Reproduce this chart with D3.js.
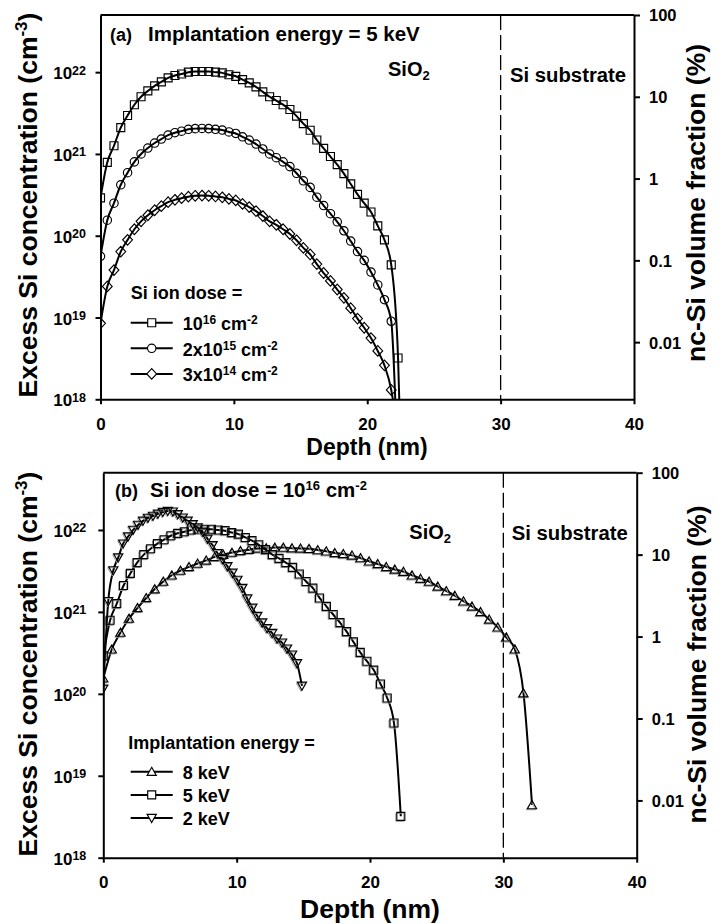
<!DOCTYPE html>
<html><head><meta charset="utf-8">
<script src="https://cdn.jsdelivr.net/npm/d3@7/dist/d3.min.js"></script>
<style>
body{margin:0;background:#fff}
svg{display:block}
text{font-family:'Liberation Sans',Arial,Helvetica,sans-serif;font-weight:bold;fill:#000}
</style>
</head><body><script>
// ---------------- DATA ----------------
// Panel (a): 5 keV implantation, three doses
const depthA = [0,0.51,1.01,1.52,2.03,2.54,3.04,3.55,4.06,4.56,5.07,5.58,6.08,6.59,7.10,7.61,8.11,8.62,9.13,9.63,10.14,10.65,11.15,11.66,12.17,12.68,13.18,13.69,14.20,14.70,15.21,15.72,16.22,16.73,17.24,17.75,18.25,18.76,19.27,19.77,20.28,20.79,21.29,21.80,22.31];
const dose1e16 = [2.9e20,7.9e20,1.26e21,2.1e21,2.95e21,4.0e21,5.0e21,5.9e21,6.8e21,7.6e21,8.5e21,9.1e21,9.5e21,1.0e22,1.02e22,1.02e22,1.02e22,1.0e22,9.8e21,9.3e21,8.9e21,8.1e21,7.4e21,6.6e21,5.75e21,5.0e21,4.5e21,4.0e21,3.5e21,2.9e21,2.35e21,1.95e21,1.48e21,1.17e21,9.3e20,7.4e20,5.75e20,4.3e20,3.2e20,2.5e20,1.95e20,1.32e20,8.9e19,4.4e19,3.2e18];
const dose2e15 = [5.6e19,1.55e20,2.5e20,4.2e20,5.9e20,8.0e20,1.0e21,1.18e21,1.36e21,1.52e21,1.7e21,1.82e21,1.9e21,2.0e21,2.04e21,2.05e21,2.04e21,2.0e21,1.96e21,1.86e21,1.78e21,1.62e21,1.48e21,1.32e21,1.15e21,1.0e21,9.0e20,8.0e20,7.0e20,5.8e20,4.7e20,3.9e20,2.96e20,2.34e20,1.86e20,1.48e20,1.15e20,8.6e19,6.4e19,5.0e19,3.6e19,2.5e19,1.65e19,9.0e18];
const dose3e14 = [8.5e18,2.4e19,3.8e19,6.4e19,8.9e19,1.2e20,1.5e20,1.78e20,2.05e20,2.3e20,2.57e20,2.75e20,2.88e20,3.0e20,3.08e20,3.1e20,3.08e20,3.02e20,2.95e20,2.82e20,2.7e20,2.45e20,2.24e20,2.0e20,1.74e20,1.5e20,1.36e20,1.2e20,1.05e20,8.8e19,7.1e19,5.9e19,4.5e19,3.5e19,2.8e19,2.2e19,1.74e19,1.3e19,9.7e18,7.5e18,5.6e18,3.9e18,2.6e18,1.3e18];
// depth where each fitted line of panel (a) reaches 1e18 cm^-3
const tailDepthA = [22.4, 22.1, 21.92];
const legendA = ["10|16| cm|-2", "2x10|15| cm|-2", "3x10|14| cm|-2"];

// Panel (b): dose 1e16, three energies
const depth8 = [0,0.64,1.29,1.93,2.57,3.22,3.86,4.50,5.14,5.79,6.43,7.07,7.72,8.36,9.00,9.65,10.29,10.93,11.57,12.22,12.86,13.50,14.15,14.79,15.43,16.08,16.72,17.36,18.00,18.65,19.29,19.93,20.58,21.22,21.86,22.51,23.15,23.79,24.43,25.08,25.72,26.36,27.01,27.65,28.29,28.94,29.58,30.22,30.86,31.51,32.15];
const conc8keV = [1.55e20,3.5e20,5.6e20,8.3e20,1.12e21,1.48e21,1.9e21,2.35e21,2.8e21,3.2e21,3.55e21,3.9e21,4.25e21,4.7e21,5.0e21,5.3e21,5.55e21,5.75e21,5.95e21,6.0e21,6.1e21,6.1e21,6.0e21,5.95e21,5.9e21,5.7e21,5.5e21,5.25e21,5.1e21,4.9e21,4.55e21,4.15e21,3.85e21,3.55e21,3.3e21,3.1e21,2.8e21,2.55e21,2.35e21,2.05e21,1.8e21,1.58e21,1.35e21,1.17e21,1.0e21,8.1e20,6.5e20,4.9e20,3.5e20,1.02e20,4.4e18];
const depth5 = depthA;
const conc5keV = dose1e16;
const depth2 = [0,0.37,0.75,1.12,1.49,1.86,2.24,2.61,2.98,3.35,3.73,4.10,4.47,4.84,5.22,5.59,5.96,6.33,6.71,7.08,7.45,7.82,8.20,8.57,8.94,9.31,9.69,10.06,10.43,10.80,11.18,11.55,11.92,12.29,12.67,13.04,13.41,13.78,14.16,14.53,14.90];
const conc2keV = [1.15e20,1.35e21,3.2e21,4.6e21,6.8e21,8.3e21,1.0e22,1.15e22,1.29e22,1.4e22,1.48e22,1.57e22,1.65e22,1.7e22,1.67e22,1.55e22,1.41e22,1.29e22,1.17e22,1.07e22,9.5e21,7.8e21,6.5e21,5.2e21,4.4e21,3.6e21,3.0e21,2.45e21,1.95e21,1.45e21,1.12e21,8.9e20,7.4e20,6.3e20,5.5e20,4.7e20,4.2e20,3.55e20,3.0e20,2.35e20,1.25e20];
const legendB = ["8 keV", "5 keV", "2 keV"];

// Axes
const xTicks = [0, 10, 20, 30, 40];
const xDomain = [0, 40];
const yDomain = [1e18, 5e22];          // cm^-3
const yRightDomain = [0.002, 100];     // % (100 % = 5e22 cm^-3)
const yTicksLeft = [1e18, 1e19, 1e20, 1e21, 1e22];
const yTicksRight = [0.01, 0.1, 1, 10, 100];
const yRightLabels = ["0.01", "0.1", "1", "10", "100"];
const interfaceDepth = 30;

// ---------------- DRAW ----------------
const W = 727, H = 924;
const svg = d3.select("body").append("svg").attr("width", W).attr("height", H);

function rich(sel, parts, fs, smallFs, raise) {
  let shift = 0;
  parts.forEach(p => {
    const ts = sel.append("tspan").text(p.t);
    const target = p.sup ? -raise : (p.sub ? raise * 0.55 : 0);
    ts.attr("dy", target - shift);
    shift = target;
    ts.style("font-size", (p.sup || p.sub) ? smallFs + "px" : fs + "px");
  });
}
function parseSup(str) { // "10|16| cm|-2" -> alternating normal/sup
  return str.split("|").map((t, i) => ({t, sup: i % 2 === 1}));
}

function markerPath(type, cx, cy) {
  switch (type) {
    case "square": { const h = 4; return `M${cx-h},${cy-h}H${cx+h}V${cy+h}H${cx-h}Z`; }
    case "circle": { const r = 4.2; return `M${cx-r},${cy}A${r},${r} 0 1,0 ${cx+r},${cy}A${r},${r} 0 1,0 ${cx-r},${cy}Z`; }
    case "diamond": { const w = 4.9, h = 5.3; return `M${cx},${cy-h}L${cx+w},${cy}L${cx},${cy+h}L${cx-w},${cy}Z`; }
    case "up": { const w = 4.6, h = 4.4; return `M${cx},${cy-h}L${cx+w},${cy+h*0.85}L${cx-w},${cy+h*0.85}Z`; }
    case "down": { const w = 4.6, h = 4.4; return `M${cx},${cy+h}L${cx+w},${cy-h*0.85}L${cx-w},${cy-h*0.85}Z`; }
  }
}

function panel(P) {
  const g = svg.append("g");
  const x = d3.scaleLinear().domain(xDomain).range([P.l, P.r]);
  const y = d3.scaleLog().domain(yDomain).range([P.b, P.t]);
  const yR = d3.scaleLog().domain(yRightDomain).range([P.b, P.t]);

  const clipId = "clip" + P.id;
  svg.append("clipPath").attr("id", clipId).append("rect")
    .attr("x", P.l).attr("y", P.t).attr("width", P.r - P.l).attr("height", P.b - P.t);

  // dashed interface line
  g.append("line").attr("x1", x(interfaceDepth)).attr("x2", x(interfaceDepth))
    .attr("y1", P.t).attr("y2", P.b).attr("stroke", "#000").attr("stroke-width", 1.3)
    .attr("stroke-dasharray", "15,5");

  // series
  const line = d3.line().x(d => x(d[0])).y(d => y(d[1])).curve(d3.curveMonotoneX);
  const sg = g.append("g").attr("clip-path", `url(#${clipId})`);
  P.series.forEach(s => {
    let pts = s.depth.slice(0, s.values.length).map((d, i) => [d, s.values[i]]);
    let lpts = pts.slice();
    if (s.tail !== undefined) lpts.push([s.tail, yDomain[0]]);
    sg.append("path").attr("d", line(lpts)).attr("fill", "none")
      .attr("stroke", "#000").attr("stroke-width", 2);
    if (P.shadow) {
      sg.append("path").attr("d", pts.map(p => markerPath(s.marker, x(p[0]) - 1, y(p[1]) + 1)).join(""))
        .attr("fill", "none").attr("stroke", "#999").attr("stroke-width", 1);
    }
    sg.append("path").attr("d", pts.map(p => markerPath(s.marker, x(p[0]), y(p[1]))).join(""))
      .attr("fill", "none").attr("stroke", "#000").attr("stroke-width", 1.15);
  });

  // top frame line
  g.append("line").attr("x1", P.l).attr("x2", P.r).attr("y1", P.t).attr("y2", P.t)
    .attr("stroke", "#000").attr("stroke-width", 2);

  // bottom axis
  const ax = g.append("g").attr("transform", `translate(0,${P.b})`)
    .call(d3.axisBottom(x).tickValues(xTicks).tickSize(5).tickSizeOuter(0).tickFormat(d => d));
  ax.attr("font-family", null).attr("font-size", null);
  ax.select(".domain").attr("stroke-width", 2);
  ax.selectAll(".tick line").attr("stroke-width", 2);
  ax.selectAll(".tick text").attr("y", 30.5).attr("dy", 0).style("font-size", "17px");

  // left axis
  const al = g.append("g").attr("transform", `translate(${P.l},0)`)
    .call(d3.axisLeft(y).tickValues(yTicksLeft).tickSize(5).tickSizeOuter(0).tickFormat(""));
  al.attr("font-family", null).attr("font-size", null);
  al.select(".domain").attr("stroke-width", 2);
  al.selectAll(".tick line").attr("stroke-width", 2);
  al.selectAll(".tick text").each(function (d) {
    const t = d3.select(this).attr("x", -P.lLab).attr("dy", 0).attr("y", 6.5).text(null);
    rich(t, [{t: "10"}, {t: String(Math.round(Math.log10(d))), sup: true}], 17, 12.5, 4.5);
  });

  // right axis
  const ar = g.append("g").attr("transform", `translate(${P.r},0)`)
    .call(d3.axisRight(yR).tickValues(yTicksRight).tickSize(6).tickSizeOuter(0)
      .tickFormat((d, i) => yRightLabels[i]));
  ar.attr("font-family", null).attr("font-size", null);
  ar.select(".domain").attr("stroke-width", 2);
  ar.selectAll(".tick line").attr("stroke-width", 2);
  ar.selectAll(".tick text").attr("x", 15).attr("dy", "0.36em").style("font-size", "16.5px");

  // axis titles
  const lt = g.append("text").attr("text-anchor", "middle")
    .attr("transform", `translate(${P.ltX},${P.ltY}) rotate(-90)`);
  rich(lt, [{t: "Excess Si concentration (cm"}, {t: "-3", sup: true}, {t: ")"}], 26.5, 17, 10);
  g.append("text").attr("text-anchor", "middle")
    .attr("transform", `translate(${P.rtX},${P.rtY}) rotate(-90)`)
    .style("font-size", "26.5px").text("nc-Si volume fraction (%)");
  g.append("text").attr("text-anchor", "middle").attr("x", P.dtX).attr("y", P.dtY)
    .style("font-size", P.dtFs + "px").text("Depth (nm)");

  // headings
  g.append("text").attr("x", P.hLabX).attr("y", P.hY).style("font-size", "18px").text(P.hLab);
  const ht = g.append("text").attr("x", P.hX).attr("y", P.hY);
  rich(ht, P.heading, 20.5, 13, 7);
  const so = g.append("text").attr("x", P.sioX).attr("y", P.sioY);
  rich(so, [{t: "SiO"}, {t: "2", sub: true}], 20, 13, 7);
  g.append("text").attr("x", P.subX).attr("y", P.subY).style("font-size", "20.3px").text("Si substrate");

  // legend
  g.append("text").attr("x", P.legTitleX).attr("y", P.legTitleY).style("font-size", "18px").text(P.legTitle);
  P.series.forEach((s, i) => {
    const ly = P.legY0 + i * P.legDy;
    g.append("line").attr("x1", P.legX1).attr("x2", P.legX2).attr("y1", ly).attr("y2", ly)
      .attr("stroke", "#000").attr("stroke-width", 2);
    g.append("path").attr("d", markerPath(s.marker, (P.legX1 + P.legX2) / 2, ly))
      .attr("fill", "#fff").attr("stroke", "#000").attr("stroke-width", 1.15);
    const lt2 = g.append("text").attr("x", P.legTextX).attr("y", ly + 7.3);
    rich(lt2, parseSup(s.label), 18, 12, 6);
  });
}

panel({
  id: "A", l: 100.5, r: 634, t: 15, b: 399.3, lLab: 14.5, shadow: false,
  ltX: 37, ltY: 205, rtX: 705, rtY: 203, dtX: 367, dtY: 455, dtFs: 23,
  hLab: "(a)", hLabX: 110, hX: 148, hY: 40.7,
  heading: [{t: "Implantation energy = 5 keV"}],
  sioX: 388, sioY: 76, subX: 510, subY: 81.7,
  legTitle: "Si ion dose =", legTitleX: 130.7, legTitleY: 299.3,
  legX1: 130.7, legX2: 172.7, legY0: 322.7, legDy: 25.6, legTextX: 182.7,
  series: [
    {depth: depthA, values: dose1e16, marker: "square", tail: tailDepthA[0], label: legendA[0]},
    {depth: depthA, values: dose2e15, marker: "circle", tail: tailDepthA[1], label: legendA[1]},
    {depth: depthA, values: dose3e14, marker: "diamond", tail: tailDepthA[2], label: legendA[2]}
  ]
});

panel({
  id: "B", l: 103.3, r: 636.7, t: 472.7, b: 857.7, lLab: 17, shadow: true,
  ltX: 37, ltY: 664, rtX: 706, rtY: 664.5, dtX: 370, dtY: 918, dtFs: 26.5,
  hLab: "(b)", hLabX: 115, hX: 150, hY: 496.7,
  heading: [{t: "Si ion dose = 10"}, {t: "16", sup: true}, {t: " cm"}, {t: "-2", sup: true}],
  sioX: 409.3, sioY: 539, subX: 511.7, subY: 540,
  legTitle: "Implantation energy =", legTitleX: 128.3, legTitleY: 749.3,
  legX1: 130.7, legX2: 172.7, legY0: 771.7, legDy: 23.2, legTextX: 182.7,
  series: [
    {depth: depth8, values: conc8keV, marker: "up", label: legendB[0]},
    {depth: depth5, values: conc5keV, marker: "square", label: legendB[1]},
    {depth: depth2, values: conc2keV, marker: "down", label: legendB[2]}
  ]
});
</script></body></html>
